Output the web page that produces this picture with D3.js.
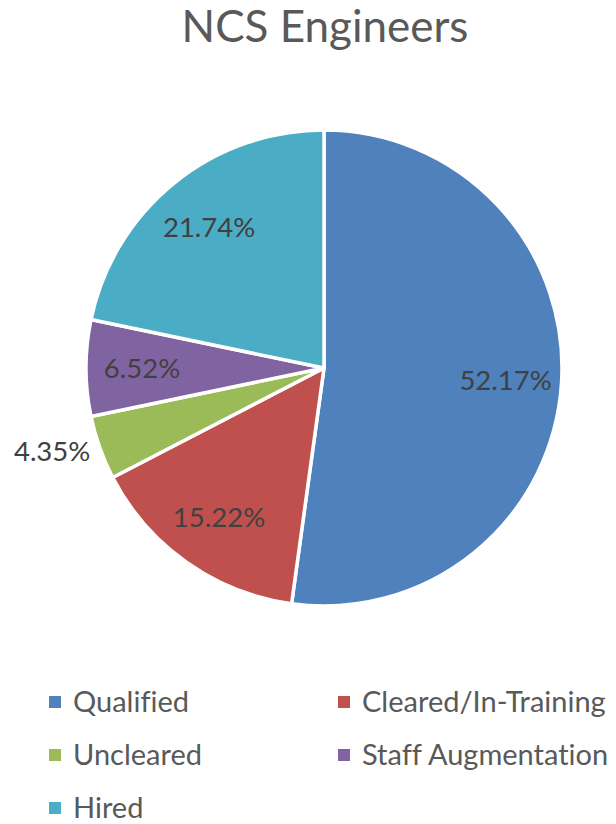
<!DOCTYPE html>
<meta charset="utf-8">
<style>
body {
  margin: 0;
  background: #fff;
}
text {
  font-family: Lato, "Open Sans", sans-serif;
  font-variant-ligatures: none;
}
</style>
<body>
<svg width="616" height="824"></svg>
<script src="https://cdn.jsdelivr.net/npm/d3@7"></script>
<script>
// chart data
var title = "NCS Engineers";
var categories = ["Qualified", "Cleared/In-Training", "Uncleared", "Staff Augmentation", "Hired"];
var counts = [24, 7, 2, 3, 10];
var colors = ["#4F81BD", "#C0504D", "#9BBB59", "#8064A2", "#4BACC6"];

var svg = d3.select("svg"),
    width = +svg.attr("width"),
    cx = 324, cy = 368,
    radius = 238;

svg.append("rect")
    .attr("width", width)
    .attr("height", svg.attr("height"))
    .attr("fill", "#fff");

svg.append("text")
    .attr("x", 325)
    .attr("y", 42)
    .attr("text-anchor", "middle")
    .attr("fill", "#595959")
    .style("font-size", "44px")
    .text(title);

var total = d3.sum(counts);
var fmt = d3.format(".2%");

var data = categories.map(function(c, i) {
  return {name: c, value: counts[i], color: colors[i]};
});

var pie = d3.pie()
    .sort(null)
    .value(function(d) { return d.value; });

var arc = d3.arc().innerRadius(0).outerRadius(radius);

var g = svg.append("g")
    .attr("transform", "translate(" + cx + "," + cy + ")");

var arcs = pie(data);

g.selectAll(".slice")
  .data(arcs)
  .enter().append("path")
    .attr("class", "slice")
    .attr("d", arc)
    .attr("fill", function(d) { return d.data.color; })
    .attr("stroke", "#fff")
    .attr("stroke-width", 3.5)
    .attr("stroke-linejoin", "round");

// labels: inside for big slices, outside for tiny ones
function pos(d, r) {
  var a = (d.startAngle + d.endAngle) / 2;
  return [Math.sin(a) * r, -Math.cos(a) * r];
}

g.selectAll(".lbl")
  .data(arcs)
  .enter().append("text")
    .attr("class", "lbl")
    .attr("transform", function(d) {
      var inside = d.data.value / total >= 0.05;
      return "translate(" + pos(d, inside ? 182 : 248) + ")";
    })
    .attr("text-anchor", function(d) { return d.data.value / total >= 0.05 ? "middle" : "end"; })
    .attr("dy", "0.36em")
    .attr("fill", "#404040")
    .style("font-size", "27.5px")
    .text(function(d) { return fmt(d.data.value / total); });

// legend
var legend = svg.append("g").attr("class", "legend");

var item = legend.selectAll(".item")
  .data(data)
  .enter().append("g")
    .attr("class", "item")
    .attr("transform", function(d, i) {
      var col = i % 2, row = Math.floor(i / 2);
      return "translate(" + (col ? 338 : 49) + "," + (712 + row * 53) + ")";
    });

item.append("rect")
    .attr("y", -16)
    .attr("width", 12)
    .attr("height", 12)
    .attr("fill", function(d) { return d.color; });

item.append("text")
    .attr("x", 24)
    .attr("fill", "#595959")
    .style("font-size", "29px")
    .text(function(d) { return d.name; });
</script>
</body>
